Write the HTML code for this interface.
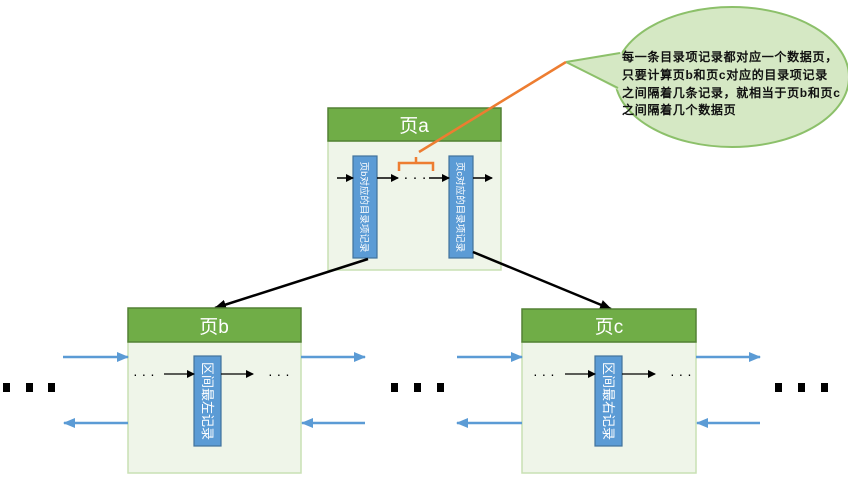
<!DOCTYPE html>
<html><head><meta charset="utf-8"><style>
html,body{margin:0;padding:0;background:#fff;width:848px;height:481px;overflow:hidden}
svg text{font-family:"Liberation Sans","Noto Sans CJK SC",sans-serif}
</style></head><body>
<svg width="848" height="481" viewBox="0 0 848 481" xmlns="http://www.w3.org/2000/svg">
<defs>
<marker id="ak" markerWidth="8" markerHeight="8" refX="7" refY="4" orient="auto" markerUnits="userSpaceOnUse"><path d="M0,0 L8,4 L0,8 z" fill="#000"/></marker>
<marker id="ab" markerWidth="12" markerHeight="10" refX="11" refY="5" orient="auto" markerUnits="userSpaceOnUse"><path d="M0,0 L12,5 L0,10 z" fill="#5b9bd5"/></marker>
<marker id="aK" markerWidth="12" markerHeight="10" refX="11" refY="5" orient="auto" markerUnits="userSpaceOnUse"><path d="M0,0 L12,5 L0,10 z" fill="#000"/></marker>
</defs>

<!-- callout -->
<ellipse cx="732" cy="77" rx="117" ry="70" fill="#d5e8c4" stroke="#8cc06a" stroke-width="2"/>
<path d="M566,62 L622,52 L622,92 Z" fill="#d5e8c4"/>
<path d="M566,62 L620,53 M566,62 L618,88" stroke="#8cc06a" stroke-width="2" fill="none"/>
<g font-size="12" fill="#111" font-weight="bold" letter-spacing="0.7">
<text x="622" y="61" style="font-family:'WenQuanYi Zen Hei','Liberation Sans',sans-serif">每一条目录项记录都对应一个数据页，</text>
<text x="622" y="79" style="font-family:'WenQuanYi Zen Hei','Liberation Sans',sans-serif">只要计算页b和页c对应的目录项记录</text>
<text x="622" y="97" style="font-family:'WenQuanYi Zen Hei','Liberation Sans',sans-serif">之间隔着几条记录，就相当于页b和页c</text>
<text x="622" y="114" style="font-family:'WenQuanYi Zen Hei','Liberation Sans',sans-serif">之间隔着几个数据页</text>
</g>

<!-- page a -->
<rect x="328" y="141" width="173" height="129" fill="#eff5e9" stroke="#c9e0b4" stroke-width="1.5"/>
<rect x="328" y="108" width="173" height="33" fill="#70ad47" stroke="#538135" stroke-width="1.5"/>
<text x="414" y="132" font-size="19" fill="#fff" text-anchor="middle">页a</text>
<rect x="353" y="156" width="24" height="102" fill="#5b9bd5" stroke="#41719c" stroke-width="1.2"/>
<rect x="449" y="156" width="24" height="102" fill="#5b9bd5" stroke="#41719c" stroke-width="1.2"/>
<text transform="translate(361,207) rotate(90)" font-size="9.5" fill="#fff" text-anchor="middle">页b对应的目录项记录</text>
<text transform="translate(457,207) rotate(90)" font-size="9.5" fill="#fff" text-anchor="middle">页c对应的目录项记录</text>
<line x1="337" y1="178" x2="353" y2="178" stroke="#000" stroke-width="1.5" marker-end="url(#ak)"/>
<line x1="377" y1="178" x2="398" y2="178" stroke="#000" stroke-width="1.5" marker-end="url(#ak)"/>
<text x="415" y="182" font-size="15" text-anchor="middle">· · ·</text>
<line x1="429" y1="178" x2="449" y2="178" stroke="#000" stroke-width="1.5" marker-end="url(#ak)"/>
<line x1="473" y1="178" x2="492" y2="178" stroke="#000" stroke-width="1.5" marker-end="url(#ak)"/>

<line x1="566" y1="62" x2="419" y2="152" stroke="#ed7d31" stroke-width="2.5"/>
<path d="M399,171 L399,163 L416,163 L416,157 M416,163 L433,163 L433,171" stroke="#ed7d31" stroke-width="2.5" fill="none"/>

<line x1="368" y1="259" x2="215" y2="308" stroke="#000" stroke-width="2.5" marker-end="url(#aK)"/>
<line x1="473" y1="252" x2="611" y2="309" stroke="#000" stroke-width="2.5" marker-end="url(#aK)"/>

<!-- page b -->
<rect x="128" y="341" width="173" height="132" fill="#eff5e9" stroke="#c9e0b4" stroke-width="1.5"/>
<rect x="128" y="308" width="173" height="34" fill="#70ad47" stroke="#538135" stroke-width="1.5"/>
<text x="214" y="333" font-size="19" fill="#fff" text-anchor="middle">页b</text>
<rect x="194" y="356" width="27" height="90" fill="#5b9bd5" stroke="#41719c" stroke-width="1.2"/>
<text transform="translate(203,401) rotate(90)" font-size="13" fill="#fff" text-anchor="middle">区间最左记录</text>
<text x="133" y="379" font-size="14">· · ·</text>
<text x="268" y="379" font-size="14">· · ·</text>
<line x1="164" y1="374" x2="194" y2="374" stroke="#000" stroke-width="1.2" marker-end="url(#ak)"/>
<line x1="221" y1="374" x2="253" y2="374" stroke="#000" stroke-width="1.2" marker-end="url(#ak)"/>
<line x1="63" y1="357" x2="128" y2="357" stroke="#5b9bd5" stroke-width="2.5" marker-end="url(#ab)"/>
<line x1="301" y1="357" x2="365" y2="357" stroke="#5b9bd5" stroke-width="2.5" marker-end="url(#ab)"/>
<line x1="128" y1="423" x2="64" y2="423" stroke="#5b9bd5" stroke-width="2.5" marker-end="url(#ab)"/>
<line x1="365" y1="423" x2="302" y2="423" stroke="#5b9bd5" stroke-width="2.5" marker-end="url(#ab)"/>

<!-- page c -->
<rect x="522" y="342" width="174" height="131" fill="#eff5e9" stroke="#c9e0b4" stroke-width="1.5"/>
<rect x="522" y="309" width="174" height="33" fill="#70ad47" stroke="#538135" stroke-width="1.5"/>
<text x="609" y="333" font-size="19" fill="#fff" text-anchor="middle">页c</text>
<rect x="595" y="356" width="27" height="90" fill="#5b9bd5" stroke="#41719c" stroke-width="1.2"/>
<text transform="translate(604,401) rotate(90)" font-size="13" fill="#fff" text-anchor="middle">区间最右记录</text>
<text x="533" y="379" font-size="14">· · ·</text>
<text x="670" y="379" font-size="14">· · ·</text>
<line x1="565" y1="374" x2="595" y2="374" stroke="#000" stroke-width="1.2" marker-end="url(#ak)"/>
<line x1="622" y1="374" x2="655" y2="374" stroke="#000" stroke-width="1.2" marker-end="url(#ak)"/>
<line x1="457" y1="357" x2="522" y2="357" stroke="#5b9bd5" stroke-width="2.5" marker-end="url(#ab)"/>
<line x1="696" y1="357" x2="760" y2="357" stroke="#5b9bd5" stroke-width="2.5" marker-end="url(#ab)"/>
<line x1="522" y1="423" x2="457" y2="423" stroke="#5b9bd5" stroke-width="2.5" marker-end="url(#ab)"/>
<line x1="760" y1="423" x2="697" y2="423" stroke="#5b9bd5" stroke-width="2.5" marker-end="url(#ab)"/>

<!-- ellipsis dots -->
<g fill="#000">
<rect x="3" y="383" width="7" height="9"/><rect x="26" y="383" width="7" height="9"/><rect x="48" y="383" width="7" height="9"/>
<rect x="391" y="383" width="7" height="9"/><rect x="414" y="383" width="7" height="9"/><rect x="437" y="383" width="7" height="9"/>
<rect x="775" y="383" width="7" height="9"/><rect x="798" y="383" width="7" height="9"/><rect x="821" y="383" width="7" height="9"/>
</g>
</svg>
</body></html>
